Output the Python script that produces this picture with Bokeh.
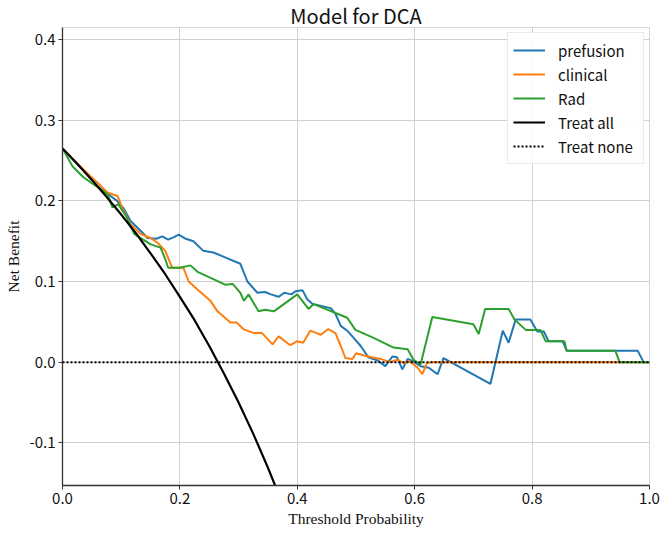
from bokeh.plotting import figure
from bokeh.models import FixedTicker, NumeralTickFormatter, Legend, LegendItem, Range1d
from bokeh.embed import file_html
from bokeh.resources import INLINE

# ---- data ----
prefusion_x = [0.000, 0.030, 0.060, 0.080, 0.093, 0.104, 0.116, 0.133, 0.145, 0.160, 0.170, 0.180, 0.190,
               0.198, 0.210, 0.223, 0.240, 0.257, 0.280, 0.303, 0.315, 0.332, 0.345, 0.355, 0.368, 0.378,
               0.390, 0.397, 0.409, 0.417, 0.426, 0.457, 0.465, 0.474, 0.485, 0.496, 0.508, 0.521, 0.537,
               0.550, 0.562, 0.570, 0.579, 0.588, 0.598, 0.610, 0.624, 0.639, 0.649, 0.729, 0.750, 0.760,
               0.772, 0.797, 0.809, 0.820, 0.828, 0.852, 0.859, 0.980, 0.990, 1.000]
prefusion_y = [0.265, 0.242, 0.222, 0.207, 0.200, 0.191, 0.175, 0.163, 0.154, 0.153, 0.156, 0.152, 0.155,
               0.158, 0.153, 0.150, 0.138, 0.136, 0.129, 0.122, 0.100, 0.086, 0.087, 0.084, 0.081, 0.086,
               0.084, 0.088, 0.089, 0.078, 0.072, 0.067, 0.060, 0.045, 0.039, 0.030, 0.020, 0.006, 0.002,
               -0.005, 0.007, 0.006, -0.009, 0.004, 0.001, -0.005, -0.007, -0.015, 0.005, -0.027, 0.039, 0.024,
               0.053, 0.053, 0.038, 0.038, 0.026, 0.026, 0.014, 0.014, 0.000, 0.000]

clinical_x = [0.000, 0.030, 0.060, 0.077, 0.094, 0.102, 0.116, 0.133, 0.150, 0.162, 0.175, 0.187, 0.206,
              0.215, 0.230, 0.252, 0.264, 0.286, 0.297, 0.308, 0.326, 0.340, 0.358, 0.368, 0.388, 0.400,
              0.410, 0.422, 0.440, 0.453, 0.465, 0.474, 0.482, 0.494, 0.500, 0.520, 0.542, 0.558, 0.570,
              0.581, 0.592, 0.605, 0.613, 0.621, 0.630, 1.000]
clinical_y = [0.265, 0.243, 0.222, 0.210, 0.206, 0.191, 0.171, 0.159, 0.154, 0.148, 0.138, 0.117, 0.117,
              0.100, 0.090, 0.076, 0.063, 0.049, 0.049, 0.041, 0.036, 0.036, 0.022, 0.032, 0.021, 0.026,
              0.024, 0.039, 0.034, 0.041, 0.036, 0.020, 0.005, 0.004, 0.011, 0.007, 0.004, 0.000, 0.003,
              -0.001, 0.001, -0.007, -0.015, -0.001, 0.000, 0.000]

rad_x = [0.000, 0.017, 0.036, 0.060, 0.077, 0.085, 0.095, 0.110, 0.122, 0.150, 0.167, 0.175, 0.180, 0.200,
         0.218, 0.230, 0.257, 0.277, 0.290, 0.303, 0.309, 0.317, 0.334, 0.345, 0.360, 0.400, 0.419, 0.428,
         0.485, 0.499, 0.530, 0.564, 0.588, 0.598, 0.610, 0.630, 0.700, 0.709, 0.720, 0.760, 0.770, 0.789,
         0.814, 0.823, 0.855, 0.859, 0.942, 0.949, 1.000]
rad_y = [0.265, 0.243, 0.229, 0.217, 0.208, 0.192, 0.196, 0.179, 0.159, 0.146, 0.142, 0.128, 0.117, 0.117,
         0.120, 0.112, 0.103, 0.096, 0.097, 0.086, 0.076, 0.084, 0.063, 0.065, 0.063, 0.084, 0.066, 0.072,
         0.055, 0.040, 0.030, 0.018, 0.016, 0.003, -0.003, 0.056, 0.047, 0.035, 0.066, 0.066, 0.053, 0.040,
         0.040, 0.026, 0.026, 0.014, 0.014, 0.000, 0.000]

treat_all_x = [0.000, 0.025, 0.050, 0.075, 0.100, 0.125, 0.150, 0.175, 0.200, 0.225, 0.250, 0.275,
               0.300, 0.325, 0.350, 0.370]
treat_all_y = [0.265, 0.246, 0.226, 0.205, 0.183, 0.160, 0.135, 0.109, 0.081, 0.052, 0.020, -0.014,
               -0.050, -0.089, -0.131, -0.167]

treat_none_x = [0.0, 1.0]
treat_none_y = [0.0, 0.0]

x_ticks = [0.0, 0.2, 0.4, 0.6, 0.8, 1.0]
y_ticks = [-0.1, 0.0, 0.1, 0.2, 0.3, 0.4]

SANS = "Noto Sans CJK SC"
SERIF = "Liberation Serif"

p = figure(width=666, height=533, output_backend="svg", toolbar_location=None,
           x_range=Range1d(0, 1), y_range=Range1d(-0.153, 0.415),
           title="Model for DCA",
           min_border_left=62, min_border_right=17, min_border_top=27, min_border_bottom=48)

p.title.align = "center"
p.title.text_font = SANS
p.title.text_font_size = "20px"
p.title.text_font_style = "normal"
p.title.text_color = "#111111"
p.title.offset = 0
try:
    p.title.standoff = -5
except Exception:
    p.title.standoff = 0

p.background_fill_color = "white"
p.border_fill_color = "white"
p.outline_line_color = "#d4d4d4"
p.outline_line_width = 1

for ax in (p.xaxis[0], p.yaxis[0]):
    ax.axis_line_color = "#333333"
    ax.axis_line_width = 1.3
    ax.major_tick_line_color = "#333333"
    ax.major_tick_out = 4
    ax.major_tick_in = 0
    ax.minor_tick_line_color = None
    ax.major_label_text_font = SANS
    ax.major_label_text_font_size = "15px"
    ax.major_label_text_color = "#111111"
    ax.axis_label_text_font = SERIF
    ax.axis_label_text_font_size = "15.5px"
    ax.axis_label_text_font_style = "normal"
    ax.axis_label_text_color = "#111111"
    ax.formatter = NumeralTickFormatter(format="0.0")

p.xaxis[0].ticker = FixedTicker(ticks=x_ticks)
p.yaxis[0].ticker = FixedTicker(ticks=y_ticks)
p.xaxis[0].axis_label = "Threshold Probability"
p.yaxis[0].axis_label = "Net Benefit"
p.xaxis[0].major_label_standoff = 3
p.yaxis[0].major_label_standoff = 3
p.xaxis[0].axis_label_standoff = 3
p.yaxis[0].axis_label_standoff = 4

p.xgrid.ticker = FixedTicker(ticks=x_ticks)
p.ygrid.ticker = FixedTicker(ticks=y_ticks)
p.xgrid.grid_line_color = "#d0d0d0"
p.ygrid.grid_line_color = "#d0d0d0"
p.xgrid.grid_line_width = 1
p.ygrid.grid_line_width = 1

r1 = p.line(prefusion_x, prefusion_y, line_color="#1f77b4", line_width=2)
r2 = p.line(clinical_x, clinical_y, line_color="#ff7f0e", line_width=2)
r3 = p.line(rad_x, rad_y, line_color="#2ca02c", line_width=2)
r4 = p.line(treat_all_x, treat_all_y, line_color="black", line_width=2.2)
r5 = p.line(treat_none_x, treat_none_y, line_color="black", line_width=2, line_dash="2 2")

legend = Legend(items=[
    LegendItem(label="prefusion", renderers=[r1]),
    LegendItem(label="clinical", renderers=[r2]),
    LegendItem(label="Rad", renderers=[r3]),
    LegendItem(label="Treat all", renderers=[r4]),
    LegendItem(label="Treat none", renderers=[r5]),
], location="top_right")
legend.label_text_font = SANS
legend.label_text_font_size = "15px"
legend.label_text_color = "#111111"
legend.glyph_width = 32
legend.glyph_height = 24
legend.label_height = 24
legend.label_width = 80
legend.label_standoff = 13
legend.spacing = 0
legend.padding = 5
legend.margin = 5
legend.border_line_color = "#d4d4d4"
legend.border_line_width = 1
legend.background_fill_alpha = 0.9
p.add_layout(legend)

open("out.html", "w").write(file_html(p, INLINE))
